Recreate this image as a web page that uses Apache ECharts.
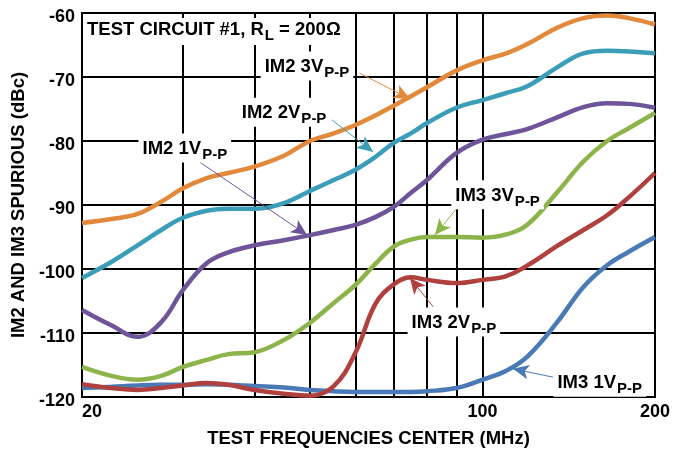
<!DOCTYPE html>
<html>
<head>
<meta charset="utf-8">
<script src="https://cdn.jsdelivr.net/npm/echarts@6/dist/echarts.min.js"></script>
<style>
  html, body { margin: 0; padding: 0; background: #fff; }
  #chart { width: 684px; height: 452px; }
</style>
</head>
<body>
<div id="chart"></div>
<script>
// frequencies (MHz) shared by all curves
const freqs = [20, 22.5, 25, 27.5, 30, 33, 36, 40, 45, 50, 55, 60, 65, 70, 75, 80, 90, 100, 110, 120, 135, 150, 165, 180, 200]

const im2_3v = [-92.8, -92.2, -91.4, -89.5, -87.4, -85.8, -85.0, -84.0, -82.3, -80.0, -78.8, -77.5, -76.0, -74.5, -73.0, -71.6, -69.0, -67.4, -66.3, -64.8, -62.3, -60.8, -60.4, -60.8, -61.8]
const im2_2v = [-101.4, -98.9, -96.3, -93.9, -92.0, -90.9, -90.6, -90.6, -89.7, -87.8, -86.1, -84.5, -82.5, -80.3, -78.8, -77.2, -74.8, -73.6, -72.5, -71.4, -68.5, -66.3, -65.9, -66.0, -66.3]
const im2_1v = [-106.4, -108.8, -110.6, -108.3, -103.3, -99.1, -97.4, -96.3, -95.5, -94.7, -93.9, -93.1, -91.9, -90.3, -88.1, -86.1, -81.9, -79.8, -78.9, -78.1, -76.3, -74.7, -74.1, -74.2, -74.8]
const im3_3v = [-115.3, -116.7, -117.3, -116.7, -115.3, -114.2, -113.3, -113.0, -111.1, -108.4, -105.3, -102.5, -99.2, -96.5, -95.4, -95.0, -95.0, -95.1, -94.6, -93.0, -88.0, -83.2, -80.0, -78.0, -75.6]
const im3_2v = [-118.0, -118.6, -118.9, -118.6, -118.2, -117.8, -118.1, -118.9, -119.5, -119.8, -118.3, -113.1, -105.5, -102.4, -101.3, -101.7, -102.2, -101.7, -101.1, -99.4, -96.4, -93.9, -91.6, -88.8, -85.0]
const im3_1v = [-118.6, -118.4, -118.2, -118.1, -118.1, -118.0, -118.1, -118.3, -118.5, -118.9, -119.1, -119.2, -119.2, -119.2, -119.2, -119.1, -118.6, -117.3, -115.9, -113.6, -108.3, -102.8, -99.4, -97.3, -95.0]

// axis ticks
const xGridValues = [20, 30, 40, 50, 60, 70, 80, 90, 100, 200]
const xLabelValues = [20, 100, 200]

const FONT = '"Liberation Sans", Arial, sans-serif'

// [name, values, colour, label anchor, arrow start, arrow end]
const curves = [
  ['IM3 1V', im3_1v, '#4a7ab6', [133, -117.7], [132.8, -116.9], [113, -115.6]],
  ['IM3 2V', im3_2v, '#b0403d', [74, -108.3], [82.0, -105.9], [74.7, -101.4]],
  ['IM3 3V', im3_3v, '#8db44b', [88.2, -88.4], [90.2, -90.5], [82.6, -94.7]],
  ['IM2 1V', im2_1v, '#6e5599', [25.1, -81.1], [32.1, -83.3], [49.4, -94.7]],
  ['IM2 2V', im2_2v, '#3b9db7', [37.4, -75.5], [54.6, -76.7], [64.4, -81.7]],
  ['IM2 3V', im2_3v, '#e2893b', [41.0, -68.3], [61.0, -69.4], [74.7, -73.4]]
]

const chart = echarts.init(document.getElementById('chart'))

const richText = {
  a: { fontSize: 18.5, fontWeight: 'bold', fontFamily: FONT, color: '#000' },
  b: { fontSize: 15, fontWeight: 'bold', fontFamily: FONT, color: '#000', padding: [12, 0, 0, 1] }
}

const series = curves.map(([name, vals, color, lab, a0, a1]) => ({
  name,
  type: 'line',
  data: freqs.map((f, i) => [f, vals[i]]),
  smooth: 0.4,
  showSymbol: false,
  lineStyle: { color, width: 4.5 },
  itemStyle: { color },
  markLine: {
    silent: true,
    symbol: ['none', 'arrow'],
    symbolSize: [11, 16],
    label: { show: false },
    lineStyle: { color, width: 1, type: 'solid' },
    data: [[{ coord: a0 }, { coord: a1 }]]
  },
  markPoint: {
    silent: true,
    symbol: 'circle',
    symbolSize: 0,
    data: [{ coord: lab }],
    label: {
      show: true,
      position: 'right',
      distance: 0,
      backgroundColor: '#fff',
      padding: [2, 4, 0, 4],
      formatter: '{a|' + name + '}{b|P-P}',
      rich: richText
    }
  }
}))

chart.setOption({
  animation: false,
  textStyle: { fontFamily: FONT },
  title: {
    left: 83,
    top: 14,
    padding: [2, 4, 2, 4],
    backgroundColor: '#fff',
    text: '{a|TEST CIRCUIT #1, R}{b|L}{a| = 200Ω}',
    textStyle: {
      rich: {
        a: { fontSize: 18.5, fontWeight: 'bold', fontFamily: FONT, color: '#000' },
        b: { fontSize: 15, fontWeight: 'bold', fontFamily: FONT, color: '#000', padding: [12, 0, 0, 1] }
      }
    }
  },
  grid: {
    left: 82,
    right: 29,
    top: 13,
    bottom: 55,
    containLabel: false,
    outerBoundsMode: 'none',
    show: true,
    borderColor: '#000',
    borderWidth: 2
  },
  xAxis: {
    type: 'log',
    logBase: 10,
    min: 20,
    max: 200,
    name: 'TEST FREQUENCIES CENTER (MHz)',
    nameLocation: 'middle',
    nameGap: 32,
    nameTextStyle: { fontSize: 18.5, fontWeight: 'bold', color: '#000' },
    axisLine: { lineStyle: { color: '#000', width: 2 } },
    axisTick: { show: false, customValues: xGridValues },
    axisLabel: {
      customValues: xLabelValues,
      alignMinLabel: 'left',
      fontSize: 18,
      fontWeight: 'bold',
      color: '#000',
      margin: 6
    },
    splitLine: { show: true, lineStyle: { color: '#000', width: 2 } }
  },
  yAxis: {
    type: 'value',
    min: -120,
    max: -60,
    interval: 10,
    name: 'IM2 AND IM3 SPURIOUS (dBc)',
    nameLocation: 'middle',
    nameGap: 50,
    nameTextStyle: { fontSize: 18.5, fontWeight: 'bold', color: '#000' },
    axisLine: { show: true, lineStyle: { color: '#000', width: 2 } },
    axisTick: { show: false },
    axisLabel: {
      fontSize: 18,
      fontWeight: 'bold',
      color: '#000',
      margin: 7,
      verticalAlign: 'top',
      lineHeight: 8
    },
    splitLine: { show: true, lineStyle: { color: '#000', width: 2 } }
  },
  series
})
</script>
</body>
</html>
